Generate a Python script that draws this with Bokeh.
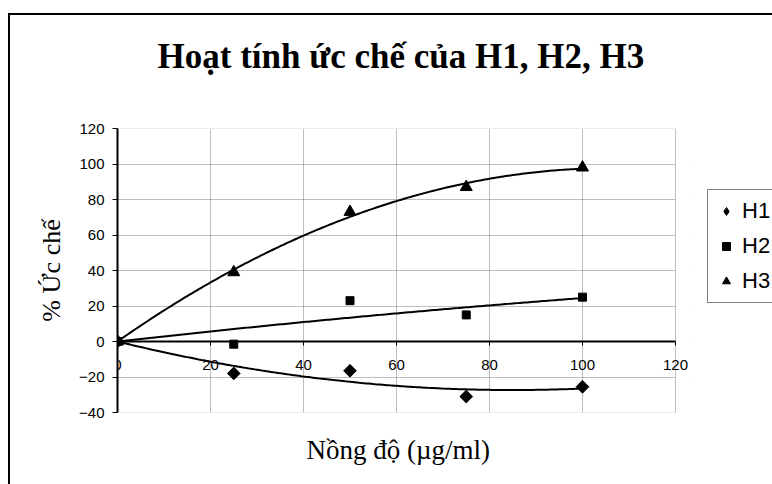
import numpy as np
from bokeh.plotting import figure
from bokeh.models import (Range1d, FixedTicker, Title, Legend, LegendItem,
                          BoxAnnotation)
from bokeh.embed import file_html
from bokeh.resources import INLINE

# ---- data ----
conc = [0, 25, 50, 75, 100]
h1 = [0, -18, -16.5, -31, -25.5]
h2 = [0, -1.5, 23, 15, 25]
h3 = [0, 39, 73, 87, 98]
x_ticks = [0, 20, 40, 60, 80, 100, 120]
y_ticks = [-40, -20, 0, 20, 40, 60, 80, 100, 120]
x_min, x_max = 0, 120
y_min, y_max = -40, 120

title_text = "Hoạt tính ức chế của H1, H2, H3"
x_label = "Nồng độ (µg/ml)"
y_label = "% Ức chế"


def trend(xv, yv):
    # second-order polynomial trendline, intercept fixed at 0
    xa_ = np.asarray(xv, dtype=float)
    ya_ = np.asarray(yv, dtype=float)
    A = np.column_stack([xa_, xa_ ** 2])
    coef, *_ = np.linalg.lstsq(A, ya_, rcond=None)
    xs = np.linspace(xa_.min(), xa_.max(), 201)
    return xs, coef[0] * xs + coef[1] * xs ** 2


PLOT_W = 558          # pixel width of the 0..120 plot area
FRAME_W = 577         # frame a bit wider so the "120" tick label is not clipped
x_end = x_max * FRAME_W / PLOT_W

p = figure(frame_width=FRAME_W, frame_height=284,
           x_range=Range1d(x_min, x_end), y_range=Range1d(y_min, y_max),
           output_backend="svg", toolbar_location=None,
           min_border_left=107, min_border_right=78,
           min_border_top=112, min_border_bottom=73)

p.styles = {"margin-left": "8px", "margin-top": "13px",
            "border-left": "2px solid black", "border-top": "2px solid black"}

p.background_fill_color = "white"
p.border_fill_color = "white"
p.outline_line_color = None

# title (outermost panel above)
p.title.text = title_text
p.title.text_font = "Liberation Serif"
p.title.text_font_size = "35px"
p.title.text_font_style = "bold"
p.title.align = "left"
p.title.offset = 40
p.title.text_color = "black"
p.title.standoff = 39

# spacer between the title and the plot area
p.add_layout(Title(text=" ", text_font_size="10px", standoff=20), "above")

# x axis placed at y = 0
xa = p.xaxis[0]
xa.fixed_location = 0
xa.bounds = (x_min, x_max)
xa.ticker = FixedTicker(ticks=x_ticks)
xa.axis_line_color = "black"
xa.axis_line_width = 2
xa.major_tick_line_color = "black"
xa.major_tick_line_width = 1
xa.major_tick_out = 4
xa.major_tick_in = 0
xa.minor_tick_line_color = None
xa.major_label_text_font = "Liberation Sans"
xa.major_label_text_font_size = "15px"
xa.major_label_text_color = "black"
xa.major_label_standoff = 14

ya = p.yaxis[0]
ya.ticker = FixedTicker(ticks=y_ticks)
ya.axis_line_color = "black"
ya.axis_line_width = 2
ya.major_tick_line_color = "black"
ya.major_tick_out = 5
ya.major_tick_in = 0
ya.minor_tick_line_color = None
ya.major_label_text_font = "Liberation Sans"
ya.major_label_text_font_size = "15px"
ya.major_label_text_color = "black"
ya.major_label_standoff = 8
ya.axis_label = y_label
ya.axis_label_text_font = "Liberation Serif"
ya.axis_label_text_font_size = "26px"
ya.axis_label_text_font_style = "normal"
ya.axis_label_text_color = "black"
ya.axis_label_standoff = 10

for g in (p.xgrid[0], p.ygrid[0]):
    g.grid_line_color = "#7a7a7a"
    g.grid_line_dash = "1 1"
    g.grid_line_width = 1

# hide grid beyond x = 120, then draw the gray plot-area border
p.add_layout(BoxAnnotation(left=x_max, fill_color="white", fill_alpha=1,
                           line_alpha=0, level="underlay"))
p.add_layout(BoxAnnotation(left=x_min, right=x_max, bottom=y_min, top=y_max,
                           fill_alpha=0, line_color="#808080", line_width=1,
                           level="underlay"))

# x axis title below
p.add_layout(Title(text=x_label, align="left", offset=189,
                   text_font="Liberation Serif",
                   text_font_size="27px", text_font_style="normal",
                   text_color="black", standoff=40), "below")

# trendlines
for ys in (h1, h2, h3):
    tx, ty = trend(conc, ys)
    p.line(tx, ty, line_color="black", line_width=2)

# H1: diamond key (used by the legend) hidden under a rotated square marker
r1_key = p.scatter(conc, h1, marker="diamond", size=9, color="black")
r1 = p.scatter(conc, h1, marker="square", angle=np.pi / 4, size=9, color="black")
r2 = p.scatter(conc, h2, marker="square", size=8, color="black")
r3 = p.scatter(conc, h3, marker="triangle", size=12, color="black")

legend = Legend(items=[LegendItem(label="H1", renderers=[r1_key]),
                       LegendItem(label="H2", renderers=[r2]),
                       LegendItem(label="H3", renderers=[r3])],
                location=(13, 109),
                border_line_color="black", border_line_width=1,
                background_fill_color="white", background_fill_alpha=1,
                label_text_font="Liberation Sans", label_text_font_size="22px",
                label_text_color="black",
                padding=8, spacing=9, glyph_width=20, glyph_height=20,
                label_standoff=6, margin=0)
p.add_layout(legend, "right")

open("out.html", "w").write(file_html(p, INLINE))
